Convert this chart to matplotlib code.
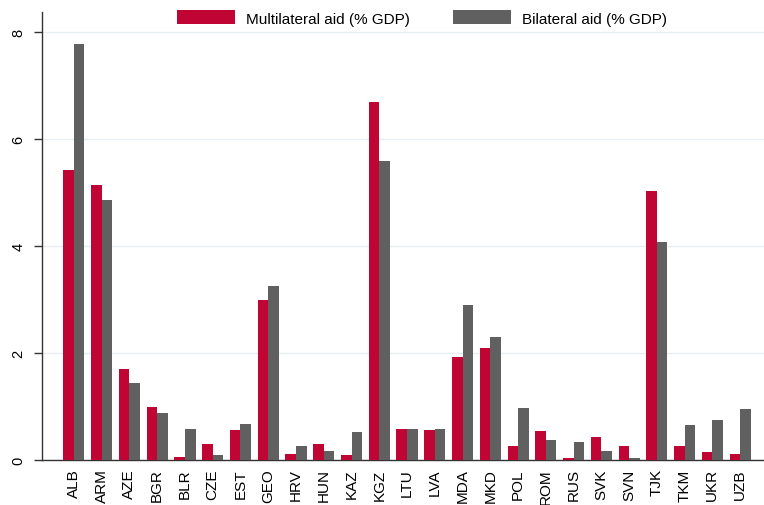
import numpy as np
import matplotlib.pyplot as plt

plt.rcParams['font.family'] = ['Liberation Sans', 'DejaVu Sans']

countries = ['ALB', 'ARM', 'AZE', 'BGR', 'BLR', 'CZE', 'EST', 'GEO', 'HRV', 'HUN',
             'KAZ', 'KGZ', 'LTU', 'LVA', 'MDA', 'MKD', 'POL', 'ROM', 'RUS', 'SVK',
             'SVN', 'TJK', 'TKM', 'UKR', 'UZB']
multilateral = [5.42, 5.14, 1.70, 0.99, 0.06, 0.30, 0.56, 2.99, 0.12, 0.30,
                0.09, 6.69, 0.58, 0.56, 1.93, 2.09, 0.26, 0.54, 0.03, 0.43,
                0.26, 5.03, 0.26, 0.15, 0.12]
bilateral = [7.78, 4.86, 1.44, 0.88, 0.58, 0.10, 0.67, 3.25, 0.26, 0.17,
             0.52, 5.59, 0.58, 0.58, 2.90, 2.30, 0.97, 0.37, 0.34, 0.17,
             0.03, 4.07, 0.65, 0.75, 0.95]
yticks = [0, 2, 4, 6, 8]

red = '#c00534'
grey = '#606060'

fig = plt.figure(figsize=(7.64, 5.06), dpi=100)
ax = fig.add_axes([0.055, 0.089, 0.945, 0.885])

x = np.arange(len(countries))
w = 0.38
ax.bar(x - w/2, multilateral, w, color=red, label='Multilateral aid (% GDP)', zorder=3)
ax.bar(x + w/2, bilateral, w, color=grey, label='Bilateral aid (% GDP)', zorder=3)

ax.set_xlim(-1.15, len(countries) - 1 + 0.86)
ax.set_ylim(0, 8.37)
ax.set_yticks(yticks)
ax.set_yticklabels([str(t) for t in yticks], rotation=90, va='center', fontsize=10.5)
ax.set_xticks(x)
ax.set_xticklabels(countries, rotation=90, fontsize=11)
ax.tick_params(axis='x', length=0, pad=6)
ax.tick_params(axis='y', length=6, width=1, color='#333333', pad=6)

ax.grid(axis='y', color='#e6eff0', linewidth=1, zorder=0)
for side in ['top', 'right']:
    ax.spines[side].set_visible(False)
for side in ['left', 'bottom']:
    ax.spines[side].set_color('#333333')
    ax.spines[side].set_linewidth(1)

fig.legend(loc='center', bbox_to_anchor=(422/764, 1 - 19/506), ncol=2, frameon=False,
           fontsize=11, handlelength=3.8, handleheight=1.0, handletextpad=0.7,
           columnspacing=2.8)

fig.savefig('out.png', dpi=100)
